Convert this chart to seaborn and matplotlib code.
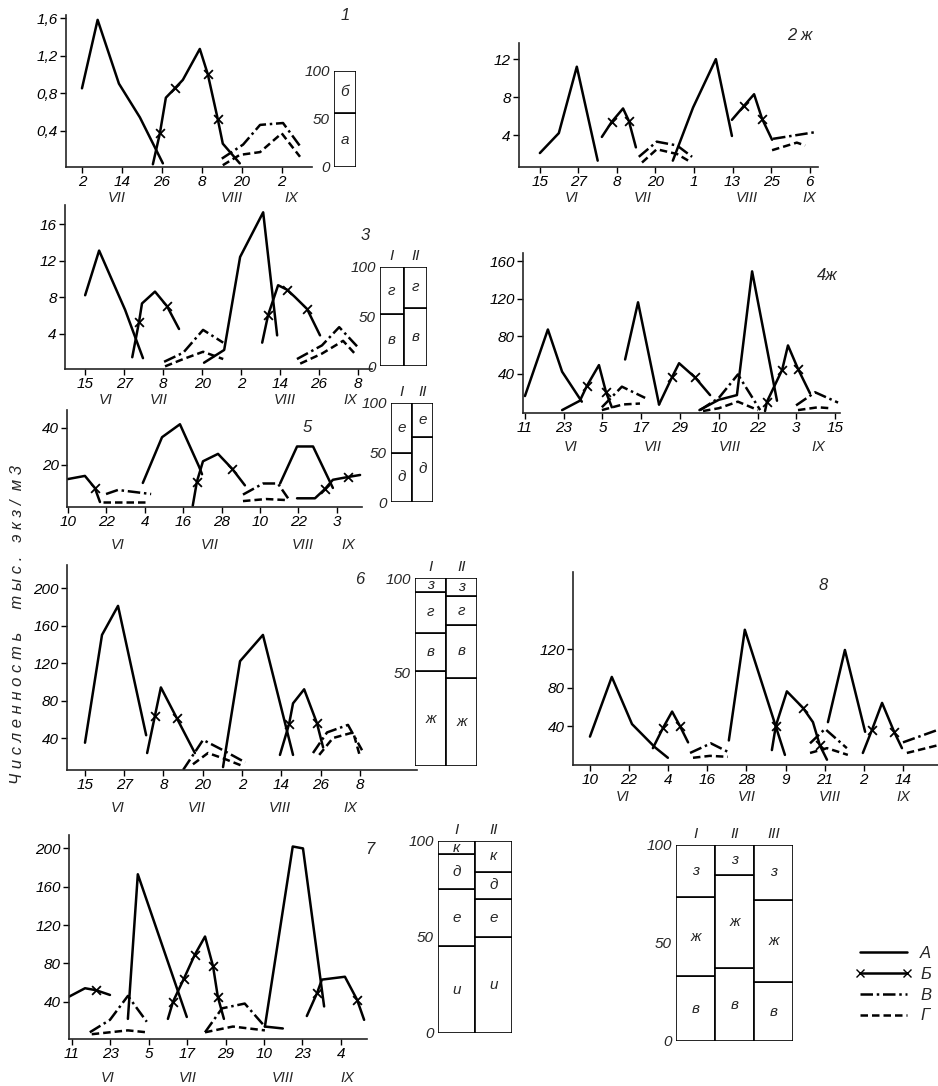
import numpy as np
import pandas as pd
import matplotlib
matplotlib.use('Agg')
import matplotlib.pyplot as plt
from matplotlib.lines import Line2D
import seaborn as sns

W, H = 938, 1086

# -- -- -- data: (day from first tick, value), one list per broken segment -- -- --

# panel 1
p1_A = [[(0, 0.85), (4.7, 1.58), (11.1, 0.9), (17.4, 0.54), (24.3, 0.05)]]
p1_B = [[(21.3, 0.04), (23.4, 0.37), (25.2, 0.75), (27.9, 0.85), (30.3, 0.94),
         (35.4, 1.27), (37.8, 1.0), (40.8, 0.52), (42.3, 0.26), (47.4, 0.05)]]
p1_Bx = [(23.4, 0.37), (27.9, 0.85), (37.8, 1.0), (40.8, 0.52)]
p1_V = [[(42, 0.1), (48.4, 0.25), (53.5, 0.46), (60.4, 0.48), (66, 0.21)]]
p1_G = [[(42.3, 0.03), (47.4, 0.14), (53.5, 0.17), (60, 0.37), (65.5, 0.12)]]
p1_ticks = ['2', '14', '26', '8', '20', '2']
p1_months = ['VII', 'VIII', 'IX']

# panel 2ж
p2_A = [[(0, 2.1), (5.9, 4.2), (11.5, 11.2), (18, 1.3)],
        [(41.4, 1.3), (47.7, 6.9), (54.8, 12), (59.8, 3.9)]]
p2_B = [[(19.3, 3.8), (22.4, 5.4), (25.9, 6.8), (27.7, 5.5), (29.9, 2.7)],
        [(59.8, 5.6), (63.6, 7.1), (66.7, 8.3), (69.2, 5.7), (72.3, 3.5)]]
p2_Bx = [(22.4, 5.4), (27.7, 5.5), (63.6, 7.1), (69.2, 5.7)]
p2_V = [[(30.8, 1.7), (36.4, 3.3), (42.7, 2.9), (47.4, 1.7)], [(72.6, 3.6), (85.7, 4.3)]]
p2_G = [[(31.8, 1.1), (36.4, 2.5), (42.7, 2.0), (46.7, 1.2)], [(72.3, 2.4), (80, 3.2), (82.6, 2.9)]]
p2_ticks = ['15', '27', '8', '20', '1', '13', '25', '6']
p2_months = ['VI', 'VII', 'VIII', 'IX']

# panel 3
p3_A = [[(0, 8.2), (4.3, 13.1), (12.3, 6.6), (17.8, 1.3)],
        [(36.6, 0.8), (42.8, 2.2), (47.7, 12.4), (54.8, 17.3), (59.1, 3.8)]]
p3_B = [[(14.5, 1.4), (16.6, 5.3), (17.5, 7.3), (21.5, 8.6), (25.2, 7.0), (28.9, 4.5)],
        [(54.5, 3.0), (56.3, 6.0), (59.4, 9.3), (62.2, 8.8), (64.6, 8.0), (68.3, 6.7), (72.3, 3.8)]]
p3_Bx = [(16.6, 5.3), (25.2, 7.0), (56.3, 6.0), (62.2, 8.8), (68.3, 6.7)]
p3_V = [[(24.3, 0.9), (30.2, 1.9), (36.3, 4.4), (42.5, 3.0)],
        [(65.2, 1.2), (72.9, 2.7), (78.2, 4.7), (83.7, 2.6)]]
p3_G = [[(24.6, 0.4), (30.2, 1.2), (36.3, 2.0), (42.5, 1.2)],
        [(66.2, 0.7), (72.9, 1.8), (79.4, 3.2), (83, 1.8)]]
p3_ticks = ['15', '27', '8', '20', '2', '14', '26', '8']
p3_months = ['VI', 'VII', 'VIII', 'IX']

# panel 4ж
p4_A = [[(0, 16), (7.1, 87), (11.5, 42), (17.6, 10)],
        [(31, 55), (35, 116), (41.5, 7)],
        [(54, 1), (60, 12), (65.6, 17), (70.3, 149), (78, 11)]]
p4_B = [[(11.5, 1), (17, 11), (19.2, 27), (22.9, 49), (25.1, 20), (26.9, 4)],
        [(41.5, 7), (45.5, 36), (47.7, 51), (52.6, 36), (57.3, 17)],
        [(74.3, 0), (74.9, 10), (79.6, 44), (81.4, 70), (84.5, 45), (88.2, 19)]]
p4_Bx = [(19.2, 27), (25.1, 20), (45.5, 36), (52.6, 36), (74.9, 10), (79.6, 44), (84.5, 45)]
p4_V = [[(23.8, 4), (30, 26), (37.2, 14)],
        [(54.2, 1), (60, 14), (65.9, 39), (72.8, 1)],
        [(83.9, 6), (89.8, 20), (96.9, 9)]]
p4_G = [[(23.8, 1), (30.3, 7), (35.6, 8)],
        [(55.1, 0), (60, 3), (65.9, 10), (72.1, 1)],
        [(84.5, 1), (90.7, 4), (94.4, 3)]]
p4_ticks = ['11', '23', '5', '17', '29', '10', '22', '3', '15']
p4_months = ['VI', 'VII', 'VIII', 'IX']

# panel 5
p5_A = [[(23.4, 10.3), (29.4, 35), (35, 42), (41, 19), (41.9, 15)],
        [(66.3, 10), (71.6, 30), (76.6, 30), (82.8, 7.6)]]
p5_B = [[(0, 12.4), (5.3, 14.1), (8.4, 7.6), (10, 0)],
        [(39, -2), (40.3, 11), (42.2, 22), (46.9, 26), (51.3, 18), (55.3, 9)],
        [(71.6, 2), (77.2, 2), (80.3, 7), (82.8, 12), (87.5, 13.5), (91.3, 14.6)]]
p5_Bx = [(8.4, 7.6), (40.3, 11), (51.3, 18), (80.3, 7), (87.5, 13.5)]
p5_V = [[(11.9, 4.3), (15.6, 6.5), (26, 4.3)],
        [(54.7, 4), (61, 10), (65.6, 10), (68.8, 2)]]
p5_G = [[(11, 0), (25, 0)], [(54.7, 0.5), (62, 1.6), (68.8, 1)]]
p5_ticks = ['10', '22', '4', '16', '28', '10', '22', '3']
p5_months = ['VI', 'VII', 'VIII', 'IX']

# panel 6
p6_A = [[(0, 35), (5.2, 150), (10.1, 181), (18.7, 43)],
        [(42.2, 9), (47.4, 122), (54.4, 150), (63.6, 22)]]
p6_B = [[(19, 24), (21.4, 64), (23.2, 94), (28.1, 61), (33.6, 24)],
        [(59.6, 22), (62.4, 55), (63.6, 77), (67, 92), (70.9, 56), (72.8, 30)]]
p6_Bx = [(21.4, 64), (28.1, 61), (62.4, 55), (70.9, 56)]
p6_V = [[(30, 6), (36.1, 38), (42.2, 27), (49, 14)],
        [(69.7, 24), (74, 46), (80.4, 54), (84.7, 27)]]
p6_G = [[(33, 12), (37.6, 24), (42.5, 18), (48.3, 10)],
        [(71.6, 22), (75.8, 40), (82, 46), (84.1, 20)]]
p6_ticks = ['15', '27', '8', '20', '2', '14', '26', '8']
p6_months = ['VI', 'VII', 'VIII', 'IX']

# panel 8
p8_A = [[(0, 29), (6.7, 91), (12.9, 42), (19.9, 18), (23.9, 7)],
        [(42.6, 25), (47.5, 140), (59.8, 10)],
        [(73, 44), (78.2, 119), (84.4, 34)]]
p8_B = [[(19.3, 17), (22.4, 38), (25.2, 55), (27.6, 40), (30.1, 23)],
        [(55.8, 15), (57, 40), (60.4, 76), (65.3, 59), (68.4, 44), (70.5, 20), (72.7, 5)],
        [(83.7, 12), (86.5, 36), (89.6, 64), (93.3, 34), (95.7, 17)]]
p8_Bx = [(22.4, 38), (27.6, 40), (57, 40), (65.3, 59), (70.5, 20), (86.5, 36), (93.3, 34)]
p8_V = [[(30.7, 12), (37.1, 22), (43, 12)],
        [(67.5, 22), (72.1, 37), (78.8, 17)],
        [(96, 23), (106.7, 36)]]
p8_G = [[(31.6, 7), (36.8, 9), (42.3, 8)],
        [(67.5, 12), (72.7, 17), (79.1, 10)],
        [(97.2, 12), (106.7, 20)]]
p8_ticks = ['10', '22', '4', '16', '28', '9', '21', '2', '14']
p8_months = ['VI', 'VII', 'VIII', 'IX']

# panel 7
p7_A = [[(17.5, 22), (20.6, 173), (35.9, 24)],
        [(60.3, 14), (65.9, 12)],
        [(60.3, 14), (69, 202), (72.2, 200), (78.8, 35)]]
p7_B = [[(-1, 45), (4.1, 54), (7.5, 52), (11.9, 47)],
        [(30, 22), (31.6, 40), (35, 64), (38.4, 89), (41.6, 108), (44.1, 77), (45.6, 45), (47.5, 22)],
        [(73.4, 25), (76.6, 49), (78.1, 63), (85.3, 66), (89.1, 42), (91.3, 21)]]
p7_Bx = [(7.5, 52), (31.6, 40), (35, 64), (38.4, 89), (44.1, 77), (45.6, 45), (76.6, 49), (89.1, 42)]
p7_V = [[(5.6, 8), (11.9, 21), (17.5, 46), (23.4, 19)],
        [(41.6, 8), (46.9, 33), (54, 38), (60.3, 14)]]
p7_G = [[(6.2, 6), (17.5, 10), (23.4, 8)],
        [(41.6, 8), (50.3, 14), (60.3, 10)]]
p7_ticks = ['11', '23', '5', '17', '29', '10', '23', '4']
p7_months = ['VI', 'VII', 'VIII', 'IX']

# composition bars (% per layer, bottom to top)
ins1_cols = ['']
ins1_parts = [[56, 44]]
ins1_names = ['а', 'б']
ins3_cols = ['I', 'II']
ins3_parts = [[52.5, 47.5], [59, 41]]
ins3_names = ['в', 'г']
ins5_cols = ['I', 'II']
ins5_parts = [[50, 50], [66, 34]]
ins5_names = ['д', 'е']
ins6_cols = ['I', 'II']
ins6_parts = [[50.5, 20.5, 21.6, 7.4], [47, 28, 15.4, 9.6]]
ins6_names = ['ж', 'в', 'г', 'з']
ins7_cols = ['I', 'II']
ins7_parts = [[45.3, 29.7, 18.2, 6.8], [50, 20, 14, 16]]
ins7_names = ['и', 'е', 'д', 'к']
ins9_cols = ['I', 'II', 'III']
ins9_parts = [[33, 40.5, 26.5], [37, 47.7, 15.3], [30, 42, 28]]
ins9_names = ['в', 'ж', 'з']

series_names = ['А', 'Б', 'В', 'Г']

# -- -- -- drawing -- -- --

sns.set_style('ticks')
plt.rcParams['font.family'] = ['Liberation Sans', 'DejaVu Sans']
plt.rcParams['font.style'] = 'italic'
plt.rcParams['axes.linewidth'] = 1.2

LS_A = '-'
LS_V = (0, (5, 1.5, 1, 1.5))
LS_G = (0, (3, 1.6))

fig = plt.figure(figsize=(W / 100, H / 100), dpi=100)


def box(l, t, r, b):
    return [l / W, 1 - b / H, (r - l) / W, (b - t) / H]


def to_frame(segs):
    rows = [(i, x, y) for i, s in enumerate(segs) for x, y in s]
    return pd.DataFrame(rows, columns=['seg', 'day', 'val'])


def lines(ax, segs, ls):
    sns.lineplot(data=to_frame(segs), x='day', y='val', units='seg', estimator=None,
                 sort=False, color='black', linewidth=1.8, linestyle=ls, ax=ax, legend=False)


def panel(px, xlim, ylim, A, B, Bx, V, G, ticks, yticks, months, mdays, moff, ylabels=None):
    ax = fig.add_axes(box(*px))
    ax.patch.set_alpha(0)
    lines(ax, A, LS_A)
    lines(ax, B, LS_A)
    lines(ax, V, LS_V)
    lines(ax, G, LS_G)
    sns.scatterplot(x=[p[0] for p in Bx], y=[p[1] for p in Bx], marker='x', s=40,
                    color='black', linewidth=1.3, ax=ax, zorder=3)
    ax.set_xlim(xlim)
    ax.set_ylim(ylim)
    ax.set_xticks(np.arange(len(ticks)) * 12)
    ax.set_xticklabels(ticks)
    ax.set_yticks(yticks)
    if ylabels is not None:
        ax.set_yticklabels(ylabels)
    ax.set_xlabel('')
    ax.set_ylabel('')
    ax.tick_params(direction='out', length=4, width=1, labelsize=11, pad=2, colors='black')
    sns.despine(ax=ax)
    for m, d in zip(months, mdays):
        ax.annotate(m, xy=(d, 0), xycoords=ax.get_xaxis_transform(), xytext=(0, -moff),
                    textcoords='offset pixels', ha='center', va='center', fontsize=10.5)
    return ax


def inset(px, cols, parts, names, yt=(0, 50, 100)):
    ax = fig.add_axes(box(*px))
    ax.patch.set_alpha(0)
    for i, col in enumerate(parts):
        bottom = 0
        for h, nm in zip(col, names):
            ax.bar(i, h, bottom=bottom, width=1, facecolor='white', edgecolor='black', linewidth=1.2)
            ax.text(i, bottom + h / 2, nm, ha='center', va='center', fontsize=11)
            bottom += h
        if cols[i]:
            ax.annotate(cols[i], xy=(i, 100), xytext=(0, 11), textcoords='offset pixels',
                        ha='center', va='center', fontsize=11)
    ax.set_xlim(-0.5, len(parts) - 0.5)
    ax.set_ylim(0, 100)
    ax.set_xticks([])
    ax.set_yticks(list(yt))
    ax.tick_params(axis='y', length=0, labelsize=11, pad=3)
    for s in ax.spines.values():
        s.set_visible(False)
    return ax


panel((66, 15, 312, 167), (-4.8, 69.1), (0.011, 1.632), p1_A, p1_B, p1_Bx, p1_V, p1_G,
      p1_ticks, [0.4, 0.8, 1.2, 1.6], p1_months, [10.5, 45, 63], 31,
      ylabels=['0,4', '0,8', '1,2', '1,6'])
panel((519, 43, 818, 167), (-6.5, 86.6), (0.63, 13.7), p2_A, p2_B, p2_Bx, p2_V, p2_G,
      p2_ticks, [4, 8, 12], p2_months, [10, 32, 64.5, 84], 31)
panel((65, 205, 372, 369), (-6.2, 88.3), (0.11, 18.1), p3_A, p3_B, p3_Bx, p3_V, p3_G,
      p3_ticks, [4, 8, 12, 16], p3_months, [6.2, 22.5, 61.5, 81.5], 31)
panel((523, 253, 840, 413), (-0.6, 97.5), (-2.1, 168.6), p4_A, p4_B, p4_Bx, p4_V, p4_G,
      p4_ticks, [40, 80, 120, 160], p4_months, [14, 39.6, 63.5, 90.7], 34)
panel((67, 410, 362, 507), (-0.3, 91.9), (-2.7, 49.7), p5_A, p5_B, p5_Bx, p5_V, p5_G,
      p5_ticks, [20, 40], p5_months, [15.6, 44.4, 73.4, 87.5], 38)
panel((67, 565, 417, 770), (-5.5, 101.5), (5.9, 224.6), p6_A, p6_B, p6_Bx, p6_V, p6_G,
      p6_ticks, [40, 80, 120, 160, 200], p6_months, [10, 34.3, 59.6, 81], 38)
panel((573, 572, 945, 765), (-5.2, 108.9), (-0.5, 200), p8_A, p8_B, p8_Bx, p8_V, p8_G,
      p8_ticks, [40, 80, 120], p8_months, [10.1, 48.2, 73.6, 96], 32)
panel((69, 835, 367, 1039), (-0.9, 92.2), (1.0, 214), p7_A, p7_B, p7_Bx, p7_V, p7_G,
      p7_ticks, [40, 80, 120, 160, 200], p7_months, [11.3, 36.3, 66, 86], 39)

inset((334, 71, 356, 167), ins1_cols, ins1_parts, ins1_names)
inset((380, 267, 427, 366), ins3_cols, ins3_parts, ins3_names)
inset((391, 403, 433, 502), ins5_cols, ins5_parts, ins5_names)
inset((415, 578, 477, 766), ins6_cols, ins6_parts, ins6_names, yt=(50, 100))
inset((438, 841, 512, 1033), ins7_cols, ins7_parts, ins7_names)
inset((676, 845, 793, 1041), ins9_cols, ins9_parts, ins9_names)

# panel numbers
for lab, x, y in [('1', 345, 15), ('2 ж', 800, 35), ('3', 365, 235), ('4ж', 827, 275),
                  ('5', 307, 428), ('6', 360, 580), ('8', 823, 585), ('7', 370, 850)]:
    fig.text(x / W, 1 - y / H, lab, ha='center', va='center', fontsize=12)

fig.text(18 / W, 1 - 625 / H, 'Ч и с л е н н о с т ь     т ы с .   э к з /  м 3',
         rotation=90, ha='center', va='center', fontsize=12)

handles = [Line2D([], [], color='black', lw=1.8, ls=LS_A),
           Line2D([], [], color='black', lw=1.8, ls=LS_A, marker='x', markersize=6),
           Line2D([], [], color='black', lw=1.8, ls=LS_V),
           Line2D([], [], color='black', lw=1.8, ls=LS_G)]
fig.legend(handles, series_names, loc='upper left', bbox_to_anchor=(855 / W, 1 - 946 / H),
           frameon=False, handlelength=3.4, fontsize=12, labelspacing=0.35, numpoints=2,
           handletextpad=0.5, borderaxespad=0, borderpad=0)

fig.savefig('out.png', dpi=100)
